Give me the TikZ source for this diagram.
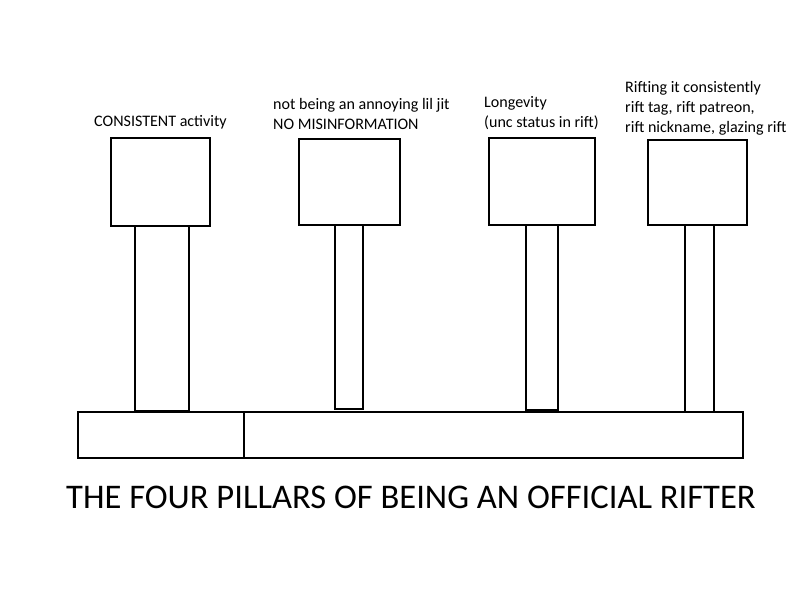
\documentclass[tikz,border=0pt]{standalone}
\usepackage{fontspec}
\setmainfont{Carlito}
\tikzset{
  block/.style 2 args={draw=black, line width=1.9pt, inner sep=0pt,
    minimum width=#1*0.03cm, minimum height=#2*0.03cm},
  label/.style={anchor=base west, align=left, inner sep=0pt,
    font=\fontsize{13.7}{17.4}\selectfont}
}
\begin{document}
\begin{tikzpicture}[x=0.03cm, y=-0.03cm]
    \useasboundingbox (0,0) rectangle (800,600);
    % top boxes
    \node[block={99}{88}] (box1) at (160.5,182) {};
    \node[block={101}{86}] (box2) at (349.5,182) {};
    \node[block={106}{87}] (box3) at (542,181.5) {};
    \node[block={99}{85}] (box4) at (697.5,182.5) {};
    % pillars
    \node[block={54}{185}] (pil1) at (162,318.5) {};
    \node[block={28}{184}] (pil2) at (349,317) {};
    \node[block={32}{185}] (pil3) at (542,317.5) {};
    \node[block={29}{187}] (pil4) at (699.5,318.5) {};
    % base
    \node[block={166}{46}] (baseL) at (161,435) {};
    \node[block={499}{46}] (baseR) at (493.5,435) {};
    % texts (base = last line)
    \node[label] (txt1) at (94,127) {CONSISTENT activity};
    \node[label] (txt2) at (273,130) {not being an annoying lil jit\\NO MISINFORMATION};
    \node[label] (txt3) at (484,128) {Longevity\\(unc status in rift)};
    \node[label] (txt4) at (625,133) {Rifting it consistently\\rift tag, rift patreon,\\rift nickname, glazing rift};
    \node[anchor=base, inner sep=0pt, font=\fontsize{29.5}{34}\selectfont] (title) at (411,509)
      {THE FOUR PILLARS OF BEING AN OFFICIAL RIFTER};
\end{tikzpicture}
\end{document}
